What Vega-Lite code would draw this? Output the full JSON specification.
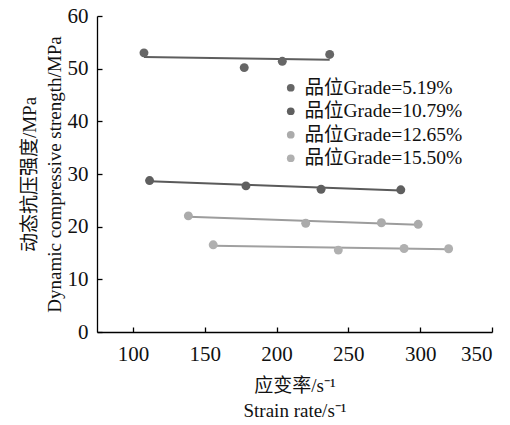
{
  "$schema": "https://vega.github.io/schema/vega-lite/v6.json",
  "width": 395,
  "height": 316,
  "autosize": {"type": "none"},
  "padding": {"left": 97, "top": 16, "right": 18, "bottom": 93},
  "background": "white",
  "config": {
    "view": {"stroke": null},
    "font": "Liberation Serif, Noto Sans CJK SC",
    "axis": {
      "grid": false,
      "domainColor": "#000",
      "domainWidth": 1.3,
      "tickColor": "#000",
      "tickWidth": 1.3,
      "tickSize": -5,
      "labelColor": "#111",
      "labelFont": "Liberation Serif",
      "labelFontSize": 21,
      "titleFont": "Liberation Serif, Noto Sans CJK SC",
      "titleFontSize": 19,
      "titleFontWeight": "normal",
      "titleColor": "#111"
    }
  },
  "datasets": {
    "pts": [
      {"series": "品位Grade=5.19%", "rate": 107.7, "strength": 53.0},
      {"series": "品位Grade=5.19%", "rate": 177.5, "strength": 50.2},
      {"series": "品位Grade=5.19%", "rate": 204.0, "strength": 51.4},
      {"series": "品位Grade=5.19%", "rate": 237.0, "strength": 52.7},
      {"series": "品位Grade=10.79%", "rate": 111.6, "strength": 28.75},
      {"series": "品位Grade=10.79%", "rate": 178.7, "strength": 27.75},
      {"series": "品位Grade=10.79%", "rate": 231.0, "strength": 27.1},
      {"series": "品位Grade=10.79%", "rate": 286.5, "strength": 27.0},
      {"series": "品位Grade=12.65%", "rate": 138.6, "strength": 22.05},
      {"series": "品位Grade=12.65%", "rate": 220.3, "strength": 20.65},
      {"series": "品位Grade=12.65%", "rate": 273.0, "strength": 20.75},
      {"series": "品位Grade=12.65%", "rate": 298.6, "strength": 20.45},
      {"series": "品位Grade=15.50%", "rate": 155.9, "strength": 16.55},
      {"series": "品位Grade=15.50%", "rate": 243.0, "strength": 15.55},
      {"series": "品位Grade=15.50%", "rate": 288.8, "strength": 15.85},
      {"series": "品位Grade=15.50%", "rate": 319.8, "strength": 15.8}
    ],
    "fits": [
      {"fit": "5.19", "rate": 107.7, "strength": 52.2},
      {"fit": "5.19", "rate": 237.0, "strength": 51.7},
      {"fit": "10.79", "rate": 111.6, "strength": 28.6},
      {"fit": "10.79", "rate": 286.5, "strength": 26.85},
      {"fit": "12.65", "rate": 138.6, "strength": 21.9},
      {"fit": "12.65", "rate": 298.6, "strength": 20.35},
      {"fit": "15.50", "rate": 155.9, "strength": 16.4},
      {"fit": "15.50", "rate": 319.8, "strength": 15.7}
    ]
  },
  "encoding": {
    "x": {
      "field": "rate", "type": "quantitative",
      "scale": {"domain": [75, 350], "nice": false, "zero": false},
      "axis": {
        "values": [100, 150, 200, 250, 300, 350],
        "labelPadding": 16,
        "title": ["应变率/s⁻¹", "Strain rate/s⁻¹"],
        "titlePadding": 12,
        "titleLineHeight": 25
      }
    },
    "y": {
      "field": "strength", "type": "quantitative",
      "scale": {"domain": [0, 60], "nice": false},
      "axis": {
        "values": [0, 10, 20, 30, 40, 50, 60],
        "labelPadding": 14,
        "title": ["动态抗压强度/MPa", "Dynamic compressive strength/MPa"],
        "titlePadding": 3,
        "titleLineHeight": 25
      }
    }
  },
  "layer": [
    {
      "data": {"name": "fits"},
      "mark": {"type": "line", "strokeWidth": 2},
      "encoding": {
        "detail": {"field": "fit"},
        "stroke": {
          "field": "fit", "type": "nominal",
          "scale": {
            "domain": ["5.19", "10.79", "12.65", "15.50"],
            "range": ["#5e5e5e", "#5a5a5a", "#9c9c9c", "#a0a0a0"]
          },
          "legend": null
        }
      }
    },
    {
      "data": {"name": "pts"},
      "mark": {"type": "point", "filled": true, "size": 80, "opacity": 1, "strokeWidth": 1},
      "encoding": {
        "color": {
          "field": "series", "type": "nominal",
          "scale": {
            "domain": ["品位Grade=5.19%", "品位Grade=10.79%", "品位Grade=12.65%", "品位Grade=15.50%"],
            "range": ["#666666", "#5f5f5f", "#ababab", "#b0b0b0"]
          },
          "legend": {
            "title": null,
            "orient": "none",
            "legendX": 184,
            "legendY": 62,
            "symbolType": "circle",
            "symbolSize": 60,
            "symbolOpacity": 1,
            "labelFont": "Liberation Serif, Noto Sans CJK SC",
            "labelFontSize": 19.5,
            "labelColor": "#111",
            "labelLimit": 300,
            "labelOffset": 4,
            "rowPadding": 2.5
          }
        }
      }
    }
  ]
}
